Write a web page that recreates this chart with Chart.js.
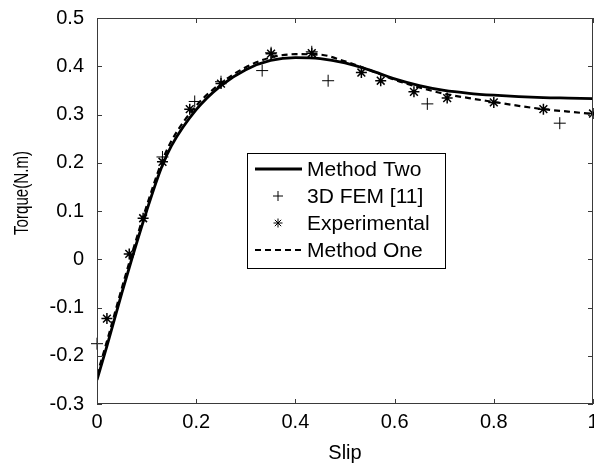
<!DOCTYPE html>
<html>
<head>
<meta charset="utf-8">
<script src="https://cdn.jsdelivr.net/npm/chart.js@4.4.0/dist/chart.umd.min.js"></script>
<style>
  html, body { margin: 0; padding: 0; background: #fff; }
</style>
</head>
<body>
<canvas id="torque_Chart" width="594" height="468"></canvas>
<script>
// slip points of the two computed curves
const slipCurve = [0, 0.02, 0.05, 0.07, 0.1, 0.13, 0.15, 0.2, 0.25, 0.3, 0.35, 0.4, 0.45, 0.5, 0.55, 0.6, 0.65, 0.7, 0.75, 0.8, 0.85, 0.9, 0.95, 1.0];
const methodTwo = [-0.25, -0.18, -0.07, 0.0, 0.1, 0.19, 0.235, 0.31, 0.36, 0.393, 0.412, 0.418, 0.416, 0.407, 0.392, 0.374, 0.36, 0.35, 0.344, 0.34, 0.337, 0.335, 0.334, 0.333];
const methodOne = [-0.24, -0.17, -0.06, 0.01, 0.11, 0.2, 0.245, 0.318, 0.365, 0.398, 0.418, 0.425, 0.424, 0.41, 0.392, 0.372, 0.356, 0.343, 0.334, 0.326, 0.318, 0.311, 0.306, 0.301];

// 3D FEM [11]
const femSlip = [0, 0.132, 0.197, 0.25, 0.333, 0.351, 0.433, 0.466, 0.666, 0.933];
const femTorque = [-0.175, 0.212, 0.327, 0.368, 0.391, 0.428, 0.43, 0.37, 0.322, 0.282];

// Experimental
const expSlip = [0.02, 0.065, 0.093, 0.132, 0.187, 0.25, 0.351, 0.433, 0.533, 0.572, 0.639, 0.706, 0.8, 0.9, 1.0];
const expTorque = [-0.123, 0.011, 0.085, 0.202, 0.311, 0.364, 0.426, 0.427, 0.387, 0.37, 0.347, 0.334, 0.325, 0.311, 0.302];

const xTicks = [0, 0.2, 0.4, 0.6, 0.8, 1];
const yTicks = [-0.3, -0.2, -0.1, 0, 0.1, 0.2, 0.3, 0.4, 0.5];
const legendLabels = ['Method Two', '3D FEM [11]', 'Experimental', 'Method One'];

const FONT = "'Liberation Sans', Arial, sans-serif";

function toPoints(xs, ys) {
  return xs.map((v, i) => ({ x: v, y: ys[i] }));
}

// box, inside ticks, legend and y title (MATLAB look)
const matlabBox = {
  id: 'matlabBox',
  afterDraw(chart) {
    const { ctx, chartArea: a, scales: { x, y } } = chart;
    ctx.save();
    ctx.strokeStyle = '#3a3a3a';
    ctx.lineWidth = 1;
    ctx.strokeRect(a.left + 0.5, a.top + 0.5, a.right - a.left - 1, a.bottom - a.top - 1);
    ctx.beginPath();
    x.ticks.forEach(t => {
      const px = Math.round(x.getPixelForValue(t.value)) + 0.5;
      ctx.moveTo(px, a.bottom); ctx.lineTo(px, a.bottom - 5);
      ctx.moveTo(px, a.top); ctx.lineTo(px, a.top + 5);
    });
    y.ticks.forEach(t => {
      const py = Math.round(y.getPixelForValue(t.value)) + 0.5;
      ctx.moveTo(a.left, py); ctx.lineTo(a.left + 5, py);
      ctx.moveTo(a.right, py); ctx.lineTo(a.right - 5, py);
    });
    ctx.stroke();

    // legend
    const lx = 247, ly = 153, lw = 199, lh = 116;
    ctx.fillStyle = '#fff';
    ctx.fillRect(lx, ly, lw, lh);
    ctx.strokeStyle = '#000';
    ctx.strokeRect(lx + 0.5, ly + 0.5, lw - 1, lh - 1);
    const rows = [169, 196, 223, 250];
    chart.data.datasets.forEach((ds, i) => {
      const ry = rows[i];
      if (ds.showLine) {
        ctx.save();
        ctx.strokeStyle = ds.borderColor;
        ctx.lineWidth = ds.borderWidth;
        ctx.setLineDash(ds.borderDash || []);
        ctx.beginPath();
        ctx.moveTo(255, ry); ctx.lineTo(302, ry);
        ctx.stroke();
        ctx.restore();
      } else {
        Chart.helpers.drawPoint(ctx, {
          pointStyle: ds.pointStyle, radius: ds.pointRadius - 1, borderWidth: ds.borderWidth
        }, 278, ry);
      }
      ctx.fillStyle = '#000';
      ctx.font = '21px ' + FONT;
      ctx.textAlign = 'left';
      ctx.textBaseline = 'middle';
      ctx.fillText(ds.label, 307, ry + 1);
    });

    // y axis title, narrow like the original
    ctx.translate(22, 193);
    ctx.rotate(-Math.PI / 2);
    ctx.scale(0.72, 1);
    ctx.fillStyle = '#000';
    ctx.font = '21px ' + FONT;
    ctx.textAlign = 'center';
    ctx.textBaseline = 'middle';
    ctx.fillText('Torque(N.m)', 0, 0);
    ctx.restore();
  }
};

const ctx_t = document.getElementById('torque_Chart').getContext('2d');
const myChart = new Chart(ctx_t, {
  type: 'scatter',
  data: {
    datasets: [
      {
        label: legendLabels[0],
        data: toPoints(slipCurve, methodTwo),
        showLine: true,
        borderColor: '#000',
        borderWidth: 2.8,
        pointRadius: 0,
        cubicInterpolationMode: 'monotone'
      },
      {
        label: legendLabels[1],
        data: toPoints(femSlip, femTorque),
        showLine: false,
        pointStyle: 'cross',
        pointRadius: 6,
        borderColor: '#000',
        borderWidth: 1,
        clip: false
      },
      {
        label: legendLabels[2],
        data: toPoints(expSlip, expTorque),
        showLine: false,
        pointStyle: 'star',
        pointRadius: 5.5,
        borderColor: '#000',
        borderWidth: 1.5,
        clip: false
      },
      {
        label: legendLabels[3],
        data: toPoints(slipCurve, methodOne),
        showLine: true,
        borderColor: '#000',
        borderWidth: 2.2,
        borderDash: [6, 4],
        pointRadius: 0,
        cubicInterpolationMode: 'monotone'
      }
    ]
  },
  options: {
    responsive: false,
    animation: false,
    devicePixelRatio: 1,
    layout: { autoPadding: false, padding: { top: 18, right: 1, left: 0, bottom: 0 } },
    plugins: { legend: { display: false }, tooltip: { enabled: false } },
    scales: {
      x: {
        type: 'linear',
        min: 0, max: 1,
        grid: { display: false, drawTicks: false },
        border: { display: false },
        afterBuildTicks: s => { s.ticks = xTicks.map(v => ({ value: v })); },
        afterFit: s => { s.height = 64; s.paddingLeft = 0; s.paddingRight = 0; },
        ticks: {
          color: '#000',
          padding: 6,
          maxRotation: 0,
          font: { family: FONT, size: 20 },
          callback: v => String(v)
        },
        title: {
          display: true,
          text: 'Slip',
          color: '#000',
          font: { family: FONT, size: 20 },
          padding: { top: 0, bottom: 3 }
        }
      },
      y: {
        type: 'linear',
        min: -0.3, max: 0.5,
        grid: { display: false, drawTicks: false },
        border: { display: false },
        afterBuildTicks: s => { s.ticks = yTicks.map(v => ({ value: v })); },
        afterFit: s => { s.width = 97; s.paddingTop = 0; s.paddingBottom = 0; },
        ticks: {
          color: '#000',
          padding: 13,
          font: { family: FONT, size: 20 },
          callback: v => String(v)
        }
      }
    }
  },
  plugins: [matlabBox]
});
</script>
</body>
</html>
